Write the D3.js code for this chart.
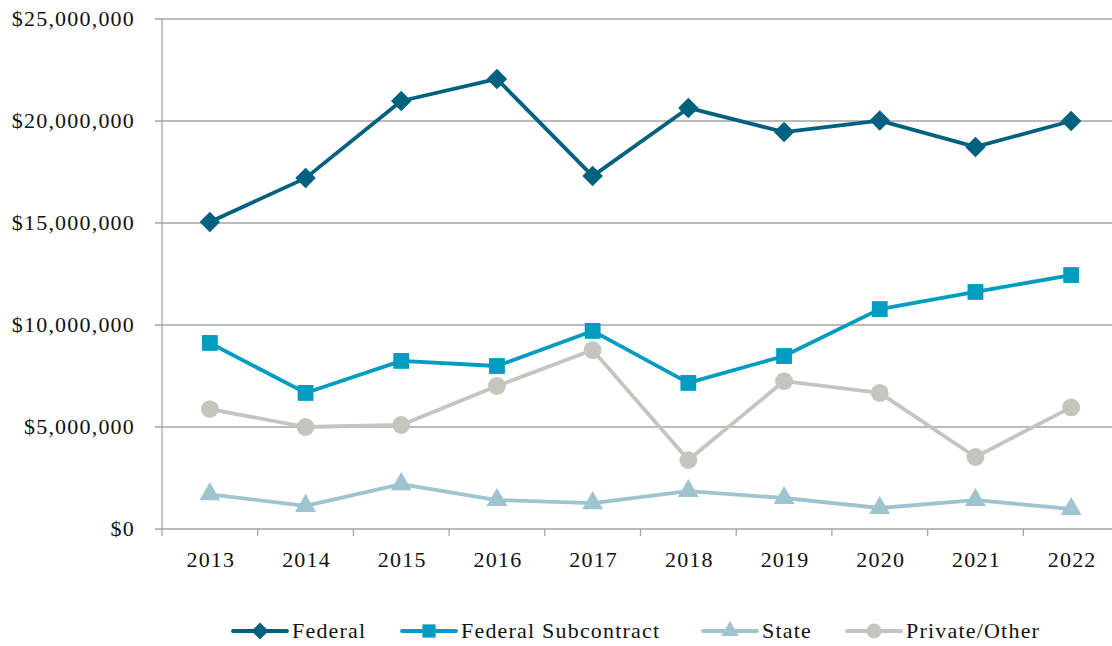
<!DOCTYPE html>
<html>
<head>
<meta charset="utf-8">
<script src="https://cdn.jsdelivr.net/npm/d3@7"></script>
<style>
  html, body { margin: 0; padding: 0; background: #fff; }
  svg { display: block; }
</style>
</head>
<body>
<div id="chart"></div>
<script>
const years = ['2013', '2014', '2015', '2016', '2017', '2018', '2019', '2020', '2021', '2022'];
const federal = [15050000, 17200000, 20980000, 22060000, 17300000, 20640000, 19460000, 20020000, 18730000, 20000000];
const federalSub = [9120000, 6670000, 8240000, 7990000, 9710000, 7160000, 8480000, 10780000, 11620000, 12450000];
const state = [1700000, 1130000, 2200000, 1420000, 1270000, 1860000, 1520000, 1030000, 1420000, 980000];
const privateOther = [5880000, 5000000, 5100000, 7010000, 8770000, 3380000, 7250000, 6670000, 3530000, 5960000];
const yTicks = [0, 5000000, 10000000, 15000000, 20000000, 25000000];

const series = [
  { name: 'Federal', values: federal, color: '#01617F', symbol: d3.symbolSquare, size: 210, rot: 45 },
  { name: 'Federal Subcontract', values: federalSub, color: '#019CBF', symbol: d3.symbolSquare, size: 250, rot: 0 },
  { name: 'State', values: state, color: '#9DC4CF', symbol: d3.symbolTriangle, size: 190, rot: 0 },
  { name: 'Private/Other', values: privateOther, color: '#C6C4BE', symbol: d3.symbolCircle, size: 250, rot: 0 }
];

const width = 1112, height = 646;
const margin = { top: 19, right: -7, bottom: 117, left: 162 };
const font = '"Liberation Serif", "DejaVu Serif", serif';
const fontSize = 22, spacing = 1.2;

const svg = d3.select('#chart').append('svg')
  .attr('width', width)
  .attr('height', height);

const x = d3.scaleBand()
  .domain(years)
  .range([margin.left, width - margin.right]);

const y = d3.scaleLinear()
  .domain([0, 25000000])
  .range([height - margin.bottom, margin.top]);

// gridlines
svg.append('g')
  .selectAll('line')
  .data(yTicks)
  .join('line')
    .attr('x1', margin.left - 7)
    .attr('x2', width)
    .attr('y1', d => y(d))
    .attr('y2', d => y(d))
    .attr('stroke', '#A5A5A5')
    .attr('stroke-width', 1.3);

// y axis line
svg.append('line')
  .attr('x1', margin.left).attr('x2', margin.left)
  .attr('y1', y(25000000)).attr('y2', y(0))
  .attr('stroke', '#A5A5A5').attr('stroke-width', 1.3);

// y labels
svg.append('g')
  .selectAll('text')
  .data(yTicks)
  .join('text')
    .attr('x', 135)
    .attr('y', d => y(d))
    .attr('dy', '0.33em')
    .attr('text-anchor', 'end')
    .attr('font-family', font)
    .attr('font-size', fontSize)
    .attr('letter-spacing', spacing)
    .attr('fill', '#111')
    .text(d => '$' + d3.format(',')(d));

// x axis
const xAxis = svg.append('g')
  .attr('transform', `translate(0,${y(0)})`);
xAxis.selectAll('line.tick')
  .data(years.concat(['end']))
  .join('line')
    .attr('class', 'tick')
    .attr('x1', (d, i) => i < years.length ? x(d) : x(years[years.length - 1]) + x.bandwidth())
    .attr('x2', (d, i) => i < years.length ? x(d) : x(years[years.length - 1]) + x.bandwidth())
    .attr('y1', 0).attr('y2', 7)
    .attr('stroke', '#A5A5A5').attr('stroke-width', 1.3);
xAxis.selectAll('text')
  .data(years)
  .join('text')
    .attr('x', d => x(d) + x.bandwidth() / 2 + 1)
    .attr('y', 38)
    .attr('text-anchor', 'middle')
    .attr('font-family', font)
    .attr('font-size', fontSize)
    .attr('letter-spacing', spacing)
    .attr('fill', '#111')
    .text(d => d);

const line = d3.line()
  .x((d, i) => x(years[i]) + x.bandwidth() / 2)
  .y(d => y(d));

const g = svg.append('g');
series.forEach(s => {
  g.append('path')
    .attr('d', line(s.values))
    .attr('fill', 'none')
    .attr('stroke', s.color)
    .attr('stroke-width', 3.8)
    .attr('stroke-linejoin', 'round');
  const sym = d3.symbol().type(s.symbol).size(s.size);
  g.selectAll(null)
    .data(s.values)
    .join('path')
      .attr('d', sym)
      .attr('transform', (d, i) => `translate(${x(years[i]) + x.bandwidth() / 2},${y(d)}) rotate(${s.rot})`)
      .attr('fill', s.color);
});

// legend
const legendX = [233, 402, 703, 847];
const legend = svg.append('g').attr('transform', 'translate(0,631)');
series.forEach((s, i) => {
  const lg = legend.append('g').attr('transform', `translate(${legendX[i]},0)`);
  lg.append('line')
    .attr('x1', 0).attr('x2', 54)
    .attr('stroke', s.color).attr('stroke-width', 3.8)
    .attr('stroke-linecap', 'round');
  lg.append('path')
    .attr('d', d3.symbol().type(s.symbol).size(s.size * 0.7))
    .attr('transform', `translate(27,0) rotate(${s.rot})`)
    .attr('fill', s.color);
  lg.append('text')
    .attr('x', 59)
    .attr('dy', '0.33em')
    .attr('font-family', font)
    .attr('font-size', fontSize)
    .attr('letter-spacing', spacing)
    .attr('fill', '#111')
    .text(s.name);
});
</script>
</body>
</html>
